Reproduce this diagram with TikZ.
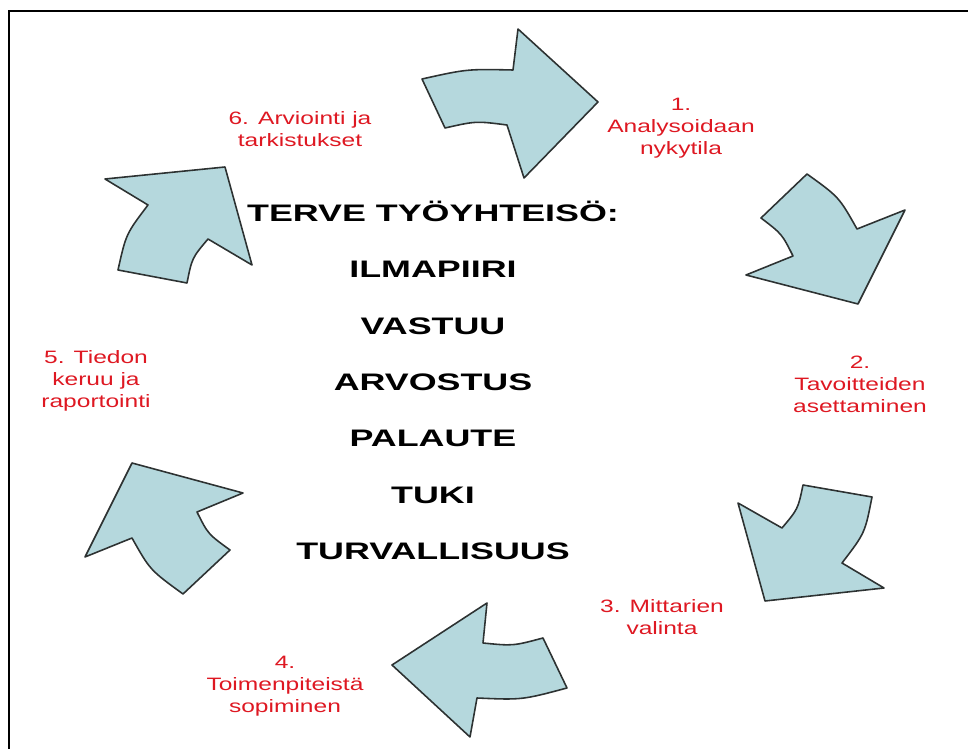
\documentclass[tikz,border=0pt]{standalone}
\usepackage{fontspec}
\newfontfamily\lblfont[FakeStretch=1.37]{Liberation Sans}
\newfontfamily\midfont[FakeStretch=1.5]{Liberation Sans Bold}
\definecolor{arrowfill}{RGB}{181,216,221}
\definecolor{arrowedge}{RGB}{45,50,50}
\definecolor{lblred}{RGB}{222,24,34}
\usetikzlibrary{positioning}

\begin{document}
\begin{tikzpicture}[
    x=0.02cm, y=-0.02cm,
    node distance=7.7mm,
    cyclearrow/.style={draw=arrowedge, line width=0.9pt, fill=arrowfill, line join=round},
    lbl/.style={align=center, text=lblred, inner sep=0pt, font=\lblfont\fontsize{10.2}{12.6}\selectfont},
    mid/.style={inner sep=0pt, text height=3.42mm, text depth=0pt, font=\midfont\fontsize{13.6}{16}\selectfont}
]
\useasboundingbox (0,0) rectangle (968,749);
\draw[line width=1.2pt] (968,11) -- (9,11) -- (9,749);

\draw[cyclearrow] (422,79) .. controls (467,69) .. (513,70) -- (518,29) -- (598,102) -- (524,178) -- (507,125) .. controls (476,121) .. (445,128) -- cycle;
\draw[cyclearrow] (807,174) -- (761,218) .. controls (782,234) .. (793,256) -- (746,275) -- (858,304) -- (905,210) -- (857,229) .. controls (839,197) .. (807,174) -- cycle;
\draw[cyclearrow] (803,485) -- (872,497) .. controls (865,533) .. (842,563) -- (884,588) -- (765,601) -- (738,503) -- (782,528) .. controls (798,509) .. (803,485) -- cycle;
\draw[cyclearrow] (487,603) -- (483,643) .. controls (513,646) .. (543,638) -- (567,688) .. controls (522,700) .. (477,698) -- (470,737) -- (392,665) -- cycle;
\draw[cyclearrow] (132,463) -- (243,493) -- (197,512) .. controls (208,534) .. (230,550) -- (183,594) .. controls (150,570) .. (132,538) -- (85,557) -- cycle;
\draw[cyclearrow] (105,179) -- (225,167) -- (252,265) -- (208,239) .. controls (192,258) .. (187,283) -- (118,270) .. controls (126,234) .. (148,205) -- cycle;

\node[lbl] (analyysi) at (681,128) {1.\\Analysoidaan\\nykytila};
\node[lbl] (tavoitteet) at (860,384) {2.\\Tavoitteiden\\asettaminen};
\node[lbl] (mittarit) at (662,617) {3. Mittarien\\valinta};
\node[lbl] (toimet) at (285,686) {4.\\Toimenpiteistä\\sopiminen};
\node[lbl] (tiedot) at (96,381) {5. Tiedon\\keruu ja\\raportointi};
\node[lbl] (arviointi) at (300,129) {6. Arviointi ja\\tarkistukset};

\node[mid] (otsikko) at (433,213) {TERVE TYÖYHTEISÖ:};
\node[mid, below=of otsikko] (ilmapiiri) {ILMAPIIRI};
\node[mid, below=of ilmapiiri] (vastuu) {VASTUU};
\node[mid, below=of vastuu] (arvostus) {ARVOSTUS};
\node[mid, below=of arvostus] (palaute) {PALAUTE};
\node[mid, below=of palaute] (tuki) {TUKI};
\node[mid, below=of tuki] (turva) {TURVALLISUUS};
\end{tikzpicture}
\end{document}
